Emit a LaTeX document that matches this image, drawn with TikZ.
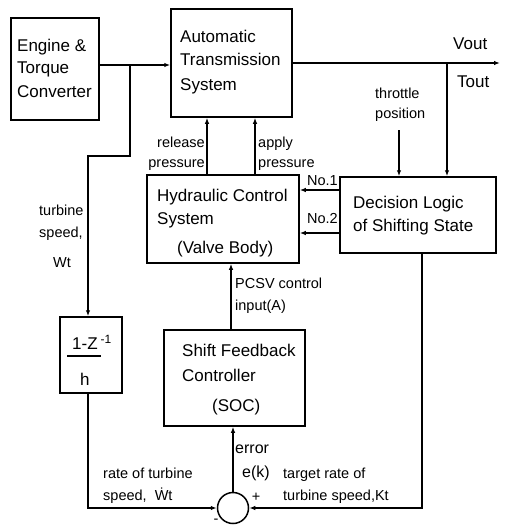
\documentclass[tikz,border=0pt]{standalone}
\usepackage{fontspec}
\setmainfont{Liberation Sans}
\usetikzlibrary{arrows.meta}
\begin{document}
\begin{tikzpicture}[x=1pt,y=-1pt,
  box/.style={draw,line width=1.5pt,inner sep=0pt,rectangle},
  arr/.style={line width=1.5pt,-{Latex[length=6pt,width=4.5pt]}},
  big/.style={font=\fontsize{17}{20}\selectfont,inner sep=0pt,anchor=base west},
  small/.style={font=\fontsize{14.5}{17}\selectfont,inner sep=0pt,anchor=base west},
  mid/.style={font=\fontsize{16}{19}\selectfont,inner sep=0pt,anchor=base west}]
\useasboundingbox (0,0) rectangle (504,527);

% boxes
\node[box,minimum width=88pt,minimum height=102pt] (eng) at (55,69) {};
\node[box,minimum width=121pt,minimum height=108pt] (ats) at (231.5,63) {};
\node[box,minimum width=152pt,minimum height=88pt] (hyd) at (223,219) {};
\node[box,minimum width=156pt,minimum height=76pt] (dec) at (418,215) {};
\node[box,minimum width=141pt,minimum height=96pt] (soc) at (234.5,378) {};
\node[box,minimum width=62pt,minimum height=76pt] (dif) at (91,355) {};
\node[draw,line width=1.5pt,circle,minimum size=31pt,inner sep=0pt] (sum) at (233,508) {};

% box texts
\node[big] (t1) at (17,52) {Engine \&};
\node[big] (t2) at (17,74) {Torque};
\node[big] (t3) at (17,97) {Converter};
\node[big] (t4) at (180,43) {Automatic};
\node[big] (t5) at (180,66) {Transmission};
\node[big] (t6) at (180,90) {System};
\node[big] (t7) at (157,201) {Hydraulic Control};
\node[big] (t8) at (157,224) {System};
\node[big] (t9) at (177,253) {(Valve Body)};
\node[big] (t10) at (353,208) {Decision Logic};
\node[big] (t11) at (353,231) {of Shifting State};
\node[big] (t12) at (182,356) {Shift Feedback};
\node[big] (t13) at (182,381) {Controller};
\node[big] (t14) at (212,411) {(SOC)};
\node[big] (t15) at (72,349) {1-Z\,\raisebox{6pt}{\fontsize{12}{12}\selectfont -1}};
\draw[line width=2.2pt] (67,356) -- (101,356);
\node[big] (t16) at (80,385) {h};

% connectors
\coordinate (j1) at (130,65);
\coordinate (jog) at (88,156);
\coordinate (vout) at (500,63);
\coordinate (j2) at (447,63);
\coordinate (th) at (399,130);
\coordinate (n1) at (320,190);
\coordinate (n2) at (320,233);
\coordinate (rel) at (207,0);
\coordinate (app) at (255,0);
\coordinate (pc) at (231,0);
\coordinate (tg) at (422,0);

\draw[arr] (eng.east|-j1) -- (ats.west|-j1);
\draw[arr] (j1) -- (j1|-jog) -- (jog) -- (jog|-dif.north);
\draw[arr] (ats.east|-vout) -- (vout);
\draw[arr] (j2) -- (j2|-dec.north);
\draw[arr] (th) -- (th|-dec.north);
\draw[arr] (dec.west|-n1) -- (hyd.east|-n1);
\draw[arr] (dec.west|-n2) -- (hyd.east|-n2);
\draw[arr] (hyd.north-|rel) -- (ats.south-|rel);
\draw[arr] (hyd.north-|app) -- (ats.south-|app);
\draw[arr] (soc.north-|pc) -- (hyd.south-|pc);
\draw[arr] (sum.north) -- (soc.south-|sum.north);
\draw[arr] (dif.south-|jog) |- (sum.west);
\draw[arr] (dec.south-|tg) |- (sum.east);

% labels
\node[big] (vo) at (453,49) {Vout};
\node[big] (to) at (457,88) {Tout};
\node[small] (l1) at (375,98) {throttle};
\node[small] (l2) at (375,118) {position};
\node[small,anchor=base east] (l3) at (205,147) {release};
\node[small,anchor=base east] (l4) at (205,167) {pressure};
\node[small] (l5) at (258,147) {apply};
\node[small] (l6) at (258,167) {pressure};
\node[small,anchor=base east] (l7) at (338,185) {No.1};
\node[small,anchor=base east] (l8) at (338,223) {No.2};
\node[small] (l9) at (39,215) {turbine};
\node[small] (l10) at (39,237) {speed,};
\node[small] (l11) at (53,267) {Wt};
\node[small] (l12) at (235,288) {PCSV control};
\node[small] (l13) at (235,310) {input(A)};
\node[mid] (l14) at (235,453) {error};
\node[mid] (l15) at (242,477) {e(k)};
\node[small] (l16) at (103,478) {rate of turbine};
\node[small] (l17) at (103,500) {speed,\ \ \.{W}t};
\node[small] (l18) at (283,478) {target rate of};
\node[small] (l19) at (283,500) {turbine speed,Kt};
\node[small,anchor=center] (pl) at (256,497) {+};
\node[small,anchor=center] (mi) at (216,521) {-};
\end{tikzpicture}
\end{document}
